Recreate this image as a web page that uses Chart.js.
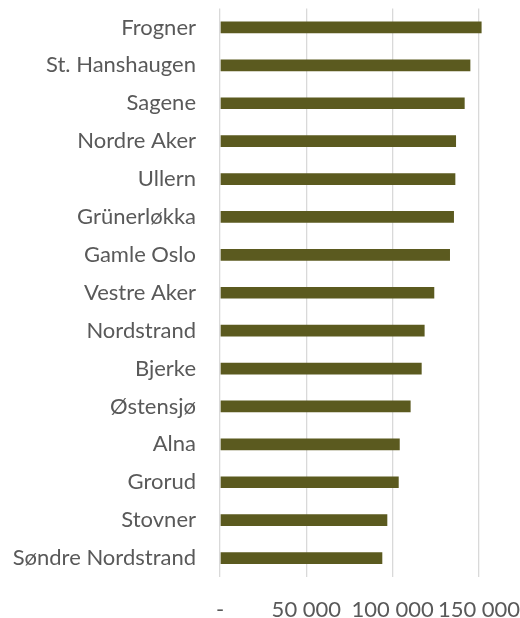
<!DOCTYPE html>
<html>
<head>
<meta charset="utf-8">
<script src="https://cdn.jsdelivr.net/npm/chart.js@4"></script>
<style>
  html, body { margin: 0; padding: 0; background: #fff; }
  #wrap { width: 520px; height: 618px; }
</style>
</head>
<body>
<div id="wrap"><canvas id="chart"></canvas></div>
<script>
// bydeler, sortert som i figuren
const districts = [
  'Frogner', 'St. Hanshaugen', 'Sagene', 'Nordre Aker', 'Ullern',
  'Grünerløkka', 'Gamle Oslo', 'Vestre Aker', 'Nordstrand', 'Bjerke',
  'Østensjø', 'Alna', 'Grorud', 'Stovner', 'Søndre Nordstrand',
];
const values = [
  151500, 145000, 141700, 136700, 136300,
  135500, 133200, 124100, 118500, 116800,
  110400, 104100, 103500, 96900, 94000,
];
const tickValues = [0, 50000, 100000, 150000];
const tickLabels = ['-', '50 000', '100 000', '150 000'];

const textColor = '#595959';
const font = { family: 'Lato', size: 22 };

new Chart(document.getElementById('chart'), {
  type: 'bar',
  data: {
    labels: districts,
    datasets: [{
      data: values,
      backgroundColor: '#5b5a1f',
      borderWidth: 0,
      barPercentage: 0.31,
      categoryPercentage: 1,
      clip: false,
    }],
  },
  options: {
    indexAxis: 'y',
    responsive: true,
    maintainAspectRatio: false,
    animation: false,
    layout: { padding: { top: 8.5, right: 41, bottom: 0, left: 0 } },
    plugins: { legend: { display: false }, tooltip: { enabled: false } },
    scales: {
      x: {
        min: 0,
        max: 150000,
        afterBuildTicks: (s) => { s.ticks = tickValues.map((v) => ({ value: v })); },
        afterFit: (s) => {
          s.height = 41;
          // tick-padding skal ikke spise av plottområdet
          s.paddingLeft = 0;
          s.paddingRight = 0;
        },
        grid: { color: '#d9d9d9', lineWidth: 1.3, drawTicks: false },
        border: { display: false },
        ticks: {
          color: textColor,
          font,
          padding: 20,
          maxRotation: 0,
          autoSkip: false,
          callback: (v) => tickLabels[tickValues.indexOf(v)],
        },
      },
      y: {
        afterFit: (s) => {
          s.width = 220;
          s.paddingTop = 0;
          s.paddingBottom = 0;
        },
        grid: { display: false, drawTicks: false },
        border: { display: false },
        ticks: { color: textColor, font, padding: 24, autoSkip: false },
      },
    },
  },
});
</script>
</body>
</html>
